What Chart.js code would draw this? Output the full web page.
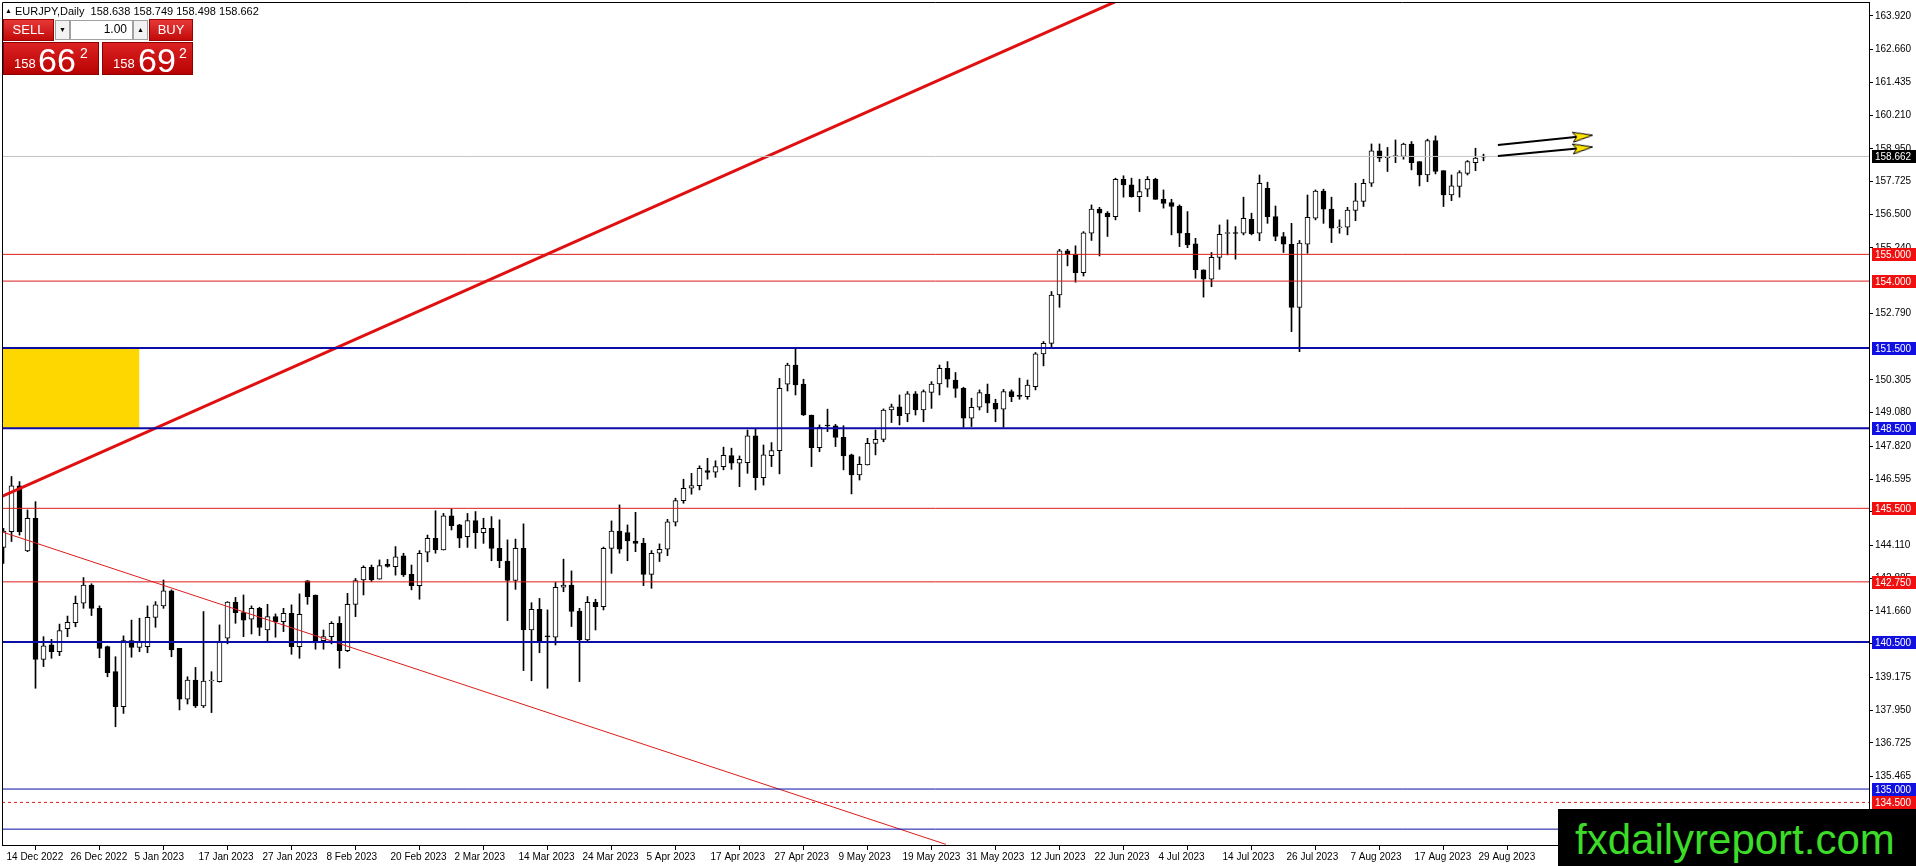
<!DOCTYPE html>
<html lang="en">
<head>
<meta charset="UTF-8">
<title>EURJPY Daily</title>
<script src="https://cdn.jsdelivr.net/npm/chart.js"></script>
<style>
    body { margin: 0; background: #fff; overflow: hidden; font-family: "Liberation Sans", Arial, sans-serif; }
    #wrap { position: relative; width: 1916px; height: 866px; }
    #chart { position: absolute; left: 0; top: 0; }
    .info { position: absolute; left: 5px; top: 5px; font-size: 11px; line-height: 11px; color: #000; white-space: pre; }
    .info .tri { font-size: 7px; vertical-align: 2px; }
    .cell { position: absolute; box-sizing: border-box; }
    .red { background: linear-gradient(#e63838, #c20a0a); color: #fff; border: 1px solid #9a0000; }
    .small { font-size: 13px; text-align: center; line-height: 20px; }
    .spin { background: #f2f2f2; border: 1px solid #a0a0a0; font-size: 7px; text-align: center; line-height: 17px; color: #000; }
    .lot { background: #fff; border: 1px solid #a0a0a0; font-size: 12px; text-align: right; padding-right: 5px; line-height: 17px; }
    .big { background: linear-gradient(#dc2222, #b80202); color: #fff; border: 1px solid #8c0000; }
    .big span { position: absolute; line-height: 1; }
    .big .p { font-size: 13px; top: 14px; }
    .big .d { font-size: 34px; top: 0px; }
    .big .s { font-size: 14px; top: 3px; }
    #mark { position: absolute; left: 1558px; top: 809px; width: 358px; height: 57px; background: #000; }
    #mark span { position: absolute; left: 17px; top: 10px; font-size: 42px; line-height: 1; color: #3cdc28; }
</style>
</head>
<body>
<div id="wrap">
    <canvas id="chart" width="1916" height="866"></canvas>

    <div class="info"><span class="tri">&#9650;</span> EURJPY,Daily  158.638 158.749 158.498 158.662</div>

    <!-- one click trading panel -->
    <div class="cell red small" style="left:3px; top:19px; width:51px; height:22px;">SELL</div>
    <div class="cell spin" style="left:55px; top:20px; width:15px; height:20px;">&#9660;</div>
    <div class="cell lot" style="left:70px; top:20px; width:63px; height:20px;">1.00</div>
    <div class="cell spin" style="left:133px; top:20px; width:15px; height:20px;">&#9650;</div>
    <div class="cell red small" style="left:149px; top:19px; width:44px; height:22px;">BUY</div>
    <div class="cell big" style="left:3px; top:42px; width:96px; height:33px;">
        <span class="p" style="left:10px;">158</span><span class="d" style="left:34px;">66</span><span class="s" style="left:76px;">2</span>
    </div>
    <div class="cell big" style="left:102px; top:42px; width:91px; height:33px;">
        <span class="p" style="left:10px;">158</span><span class="d" style="left:35px;">69</span><span class="s" style="left:76px;">2</span>
    </div>

    <div id="mark"><span>fxdailyreport.com</span></div>
</div>

<script>
    // date labels, one every 8 daily bars
    const xTickLabels = ['14 Dec 2022', '26 Dec 2022', '5 Jan 2023', '17 Jan 2023', '27 Jan 2023', '8 Feb 2023',
        '20 Feb 2023', '2 Mar 2023', '14 Mar 2023', '24 Mar 2023', '5 Apr 2023', '17 Apr 2023', '27 Apr 2023',
        '9 May 2023', '19 May 2023', '31 May 2023', '12 Jun 2023', '22 Jun 2023', '4 Jul 2023', '14 Jul 2023',
        '26 Jul 2023', '7 Aug 2023', '17 Aug 2023', '29 Aug 2023'];

    // daily OHLC, bar 0 = 14 Dec 2022
    const opens = [
        144.04,144.63,146.34,143.91,145.13,139.85,140.39,140.14,141.00,141.22,
        141.95,142.63,141.76,140.33,139.39,138.08,140.55,140.30,140.33,141.42,
        141.85,142.41,140.26,138.36,139.08,138.11,139.04,139.02,140.64,141.99,
        141.60,141.35,141.76,140.95,141.45,141.26,141.57,140.33,142.79,142.26,
        140.55,140.70,141.20,140.18,141.91,142.82,143.29,142.85,143.41,143.32,
        143.72,143.03,142.61,143.86,144.38,143.94,145.22,144.88,144.44,145.04,
        144.59,144.75,144.00,143.53,142.80,144.00,140.95,141.72,140.70,140.68,
        142.55,142.63,141.66,140.58,141.98,141.82,144.00,144.65,144.59,144.28,
        144.19,143.03,143.82,143.97,144.98,145.79,146.25,146.35,146.91,146.85,
        147.06,147.47,147.19,147.21,148.21,146.65,147.47,147.66,150.14,150.86,
        150.15,148.99,147.77,148.60,148.59,148.16,147.50,146.75,147.12,147.93,
        148.08,149.18,149.30,149.03,149.78,149.18,149.84,150.15,150.74,150.30,
        149.99,148.87,149.28,149.77,149.43,149.21,149.87,149.70,149.68,150.05,
        151.28,151.67,153.48,155.13,155.00,154.32,155.79,156.69,156.54,156.41,
        157.81,157.60,157.16,157.44,157.81,157.06,156.94,156.81,155.79,155.39,
        154.42,154.07,154.89,155.78,155.79,155.79,156.31,155.79,157.47,156.41,
        155.67,155.38,153.02,155.38,156.35,157.37,156.69,155.99,156.02,156.64,
        156.98,157.66,158.87,158.62,158.66,158.66,159.13,158.47,157.97,159.26,
        158.13,157.22,157.54,158.03,158.43,158.638];
    const highs = [
        144.75,146.69,146.50,145.44,145.75,140.70,140.60,141.17,141.47,142.22,
        142.91,142.68,141.85,140.35,139.95,140.73,141.32,141.39,141.85,142.01,
        142.82,142.45,140.26,139.20,139.55,141.64,139.39,141.14,142.01,142.17,
        142.26,141.85,141.80,141.91,141.55,141.76,141.89,142.30,142.80,142.26,
        140.95,141.26,141.45,142.32,142.88,143.35,143.38,143.57,143.59,144.07,
        143.82,143.38,143.92,144.50,145.41,145.31,145.48,144.90,145.31,145.38,
        145.13,145.19,145.07,144.32,144.35,144.92,141.97,142.13,141.70,142.73,
        143.60,143.16,141.76,142.20,142.10,144.05,145.03,145.63,144.88,145.35,
        144.38,143.92,144.17,145.09,145.88,146.59,146.81,147.09,147.37,147.28,
        147.79,147.75,147.46,148.43,148.49,147.87,147.96,150.36,150.93,151.49,
        150.33,148.99,148.62,149.21,148.64,148.59,147.53,147.43,148.12,148.43,
        149.22,149.40,149.74,149.87,149.87,149.93,150.24,150.86,150.99,150.58,
        150.03,149.62,149.93,150.15,149.58,149.95,149.93,150.37,150.30,151.33,
        151.74,153.61,155.19,155.19,155.32,155.85,156.85,156.76,156.60,157.85,
        157.94,157.85,157.81,157.91,157.85,157.41,157.06,156.85,156.60,155.60,
        154.42,155.07,156.10,156.29,156.04,157.14,156.54,157.97,157.70,156.81,
        155.82,156.16,155.52,157.22,157.41,157.44,157.14,156.29,156.76,157.66,
        157.81,159.13,159.13,159.00,159.28,159.16,159.22,158.47,159.31,159.43,
        158.13,157.97,158.13,158.51,158.97,158.749];
    const lows = [
        143.44,144.26,144.50,143.88,138.77,139.58,139.89,139.99,140.70,141.07,
        141.76,141.49,139.91,139.20,137.33,137.83,139.93,140.14,140.10,141.05,
        141.76,139.95,137.96,138.18,138.05,138.05,137.86,139.00,140.43,141.20,
        140.70,140.80,140.74,140.55,140.68,140.89,140.04,139.89,141.91,140.23,
        140.23,140.43,139.52,140.14,141.45,142.26,142.76,142.85,143.30,143.00,
        142.95,142.45,142.10,143.50,143.82,143.94,144.69,144.03,144.04,144.00,
        144.19,143.54,143.28,141.30,142.47,139.43,139.05,140.10,138.77,140.39,
        142.38,141.08,139.02,140.54,140.95,141.70,143.07,143.82,143.54,143.88,
        142.61,142.51,143.51,143.73,144.84,145.69,146.03,146.19,146.59,146.66,
        146.94,146.96,146.31,146.81,146.19,146.37,147.06,146.79,149.89,149.74,
        148.97,147.06,147.62,148.37,147.81,146.94,146.04,146.56,147.12,147.50,
        147.99,148.71,148.62,148.74,148.99,148.74,149.24,149.74,150.03,149.65,
        148.53,148.56,149.18,149.08,148.74,148.53,149.49,149.58,149.58,149.93,
        150.83,151.55,153.02,154.57,153.96,154.19,155.52,154.94,155.67,156.29,
        157.14,157.14,156.60,157.16,157.06,156.73,155.73,155.29,155.25,154.11,
        153.40,153.79,154.44,154.98,154.82,155.73,155.73,155.51,156.16,155.51,
        155.07,152.11,151.36,155.04,156.29,156.16,155.44,155.79,155.73,156.26,
        156.79,157.54,158.47,158.10,158.43,158.56,158.16,157.56,157.72,158.01,
        156.79,157.01,157.14,157.97,158.13,158.498];
    const closes = [
        144.65,146.34,144.63,145.13,139.85,140.36,140.14,140.93,141.24,141.95,
        142.63,141.76,140.26,139.35,138.08,140.55,140.30,140.51,141.42,141.89,
        142.41,140.20,138.36,139.08,138.11,139.04,139.06,140.51,141.99,141.60,
        141.32,141.76,141.05,141.45,141.26,141.57,140.33,141.54,142.20,140.55,
        140.70,141.20,140.18,141.91,142.80,143.29,142.82,143.36,143.33,143.69,
        143.01,142.61,143.82,144.38,143.94,145.22,144.85,144.38,145.04,144.59,
        144.75,144.00,143.54,142.80,144.00,140.95,141.72,140.54,140.69,142.55,
        142.63,141.64,140.58,141.98,141.82,144.00,144.65,143.97,144.28,144.19,
        143.03,143.82,143.97,145.00,145.79,146.25,146.35,147.00,146.84,147.06,
        147.48,147.19,147.33,148.21,146.65,147.50,147.66,149.99,150.86,150.12,
        148.99,147.77,148.53,148.58,148.15,147.46,146.75,147.15,147.93,148.08,
        149.18,149.30,148.97,149.78,149.18,149.87,150.15,150.74,150.33,149.99,
        148.87,149.28,149.83,149.43,149.21,149.87,149.68,149.69,150.11,151.28,
        151.67,153.48,155.13,155.00,154.32,155.81,156.69,156.54,156.41,157.81,
        157.60,157.16,157.35,157.81,157.06,156.91,156.79,155.79,155.35,154.42,
        154.07,154.89,155.75,155.79,155.78,156.35,155.77,157.66,156.41,155.67,
        155.38,153.02,155.42,156.39,157.37,156.69,155.98,156.00,156.66,157.00,
        157.66,158.87,158.60,158.63,158.68,159.13,158.43,157.97,159.26,158.10,
        157.22,157.56,158.06,158.47,158.60,158.662];

    // price axis labels
    const yTicks = [163.920, 162.660, 161.435, 160.210, 158.950, 157.725, 156.500, 155.240, 152.790,
        150.305, 149.080, 147.820, 146.595, 145.370, 144.110, 142.885, 141.660, 140.435, 139.175,
        137.950, 136.725, 135.465];

    // horizontal levels
    const redLevels = [155.0, 154.0, 145.5, 142.75];
    const blueLevels = [151.5, 148.5, 140.5];
    const blueThinLevels = [135.0, 133.5];
    const dottedLevels = [134.5];
    const currentPrice = 158.662;

    // price tags on the axis
    const tagLevels = [158.662, 155.0, 154.0, 151.5, 148.5, 145.5, 142.75, 140.5, 135.0, 134.5];
    const tagKinds = ['last', 'red', 'red', 'blue', 'blue', 'red', 'red', 'blue', 'blue', 'red'];

    // drawn objects (bar index, price)
    const upTrendBars = [-0.19, 139.5];
    const upTrendPrices = [145.95, 164.52];
    const downTrendBars = [-0.19, 117.8];
    const downTrendPrices = [144.62, 132.93];
    const zoneBars = [-0.19, 17.0];
    const zonePrices = [151.5, 148.5];
    const arrowBars = [186.8, 197.4];
    const arrowUpperPrices = [159.09, 159.42];
    const arrowLowerPrices = [158.68, 158.98];

    const X_MIN = -0.1875, X_MAX = 233.1875;
    const Y_MIN = 132.907, Y_MAX = 164.44;
    const RED = '#dc1c1c', BLUE = '#0c0ca6';
    const TAG_COLORS = { red: '#f01010', blue: '#1010e0', last: '#000000' };

    const idx = opens.map((_, i) => i);

    // yellow arrowhead used as point style
    const head = document.createElement('canvas');
    head.width = 22;
    head.height = 12;
    (function () {
        const c = head.getContext('2d');
        c.beginPath();
        c.moveTo(1, 1);
        c.lineTo(21, 6);
        c.lineTo(1, 11);
        c.lineTo(5, 6);
        c.closePath();
        c.fillStyle = '#ffe400';
        c.fill();
        c.strokeStyle = '#000';
        c.lineWidth = 1;
        c.stroke();
    })();

    function pts(xs, ys) {
        return xs.map((x, k) => ({ x: x, y: ys[k] }));
    }
    function hline(level, color, width, dash) {
        return {
            type: 'line', data: pts([X_MIN, X_MAX], [level, level]),
            borderColor: color, borderWidth: width, borderDash: dash || [],
            pointRadius: 0, fill: false, order: 1
        };
    }
    function arrow(ys) {
        return {
            type: 'line', data: pts(arrowBars, ys),
            borderColor: '#000', borderWidth: 2,
            pointRadius: [0, 10], pointStyle: ['circle', head], pointRotation: [0, -6],
            fill: false, order: 0
        };
    }

    const datasets = [];
    // yellow zone
    datasets.push({ type: 'line', data: pts(zoneBars, [zonePrices[0], zonePrices[0]]), borderWidth: 0,
        pointRadius: 0, fill: '+1', backgroundColor: '#ffd700', order: 10 });
    datasets.push({ type: 'line', data: pts(zoneBars, [zonePrices[1], zonePrices[1]]), borderWidth: 0,
        pointRadius: 0, fill: false, order: 10 });
    // candles
    datasets.push({
        type: 'bar', data: idx.map(i => ({ x: i, y: [lows[i], highs[i]] })),
        backgroundColor: '#000', borderWidth: 0, barThickness: 1, grouped: false, order: 3
    });
    datasets.push({
        type: 'bar', data: idx.map(i => ({ x: i, y: [opens[i], closes[i]] })),
        backgroundColor: idx.map(i => closes[i] >= opens[i] ? '#ffffff' : '#000000'),
        borderColor: '#000', borderWidth: 1, borderSkipped: false, barThickness: 5,
        minBarLength: 1, grouped: false, order: 2
    });
    // levels
    datasets.push(hline(currentPrice, '#c4c4c4', 1));
    redLevels.forEach(v => datasets.push(hline(v, RED, 1)));
    blueLevels.forEach(v => datasets.push(hline(v, BLUE, 2)));
    blueThinLevels.forEach(v => datasets.push(hline(v, BLUE, 1)));
    dottedLevels.forEach(v => datasets.push(hline(v, RED, 1, [3, 3])));
    // trendlines
    datasets.push({ type: 'line', data: pts(upTrendBars, upTrendPrices), borderColor: '#e01010',
        borderWidth: 3, pointRadius: 0, fill: false, order: 1 });
    datasets.push({ type: 'line', data: pts(downTrendBars, downTrendPrices), borderColor: RED,
        borderWidth: 1, pointRadius: 0, fill: false, order: 1 });
    // arrows
    datasets.push(arrow(arrowUpperPrices));
    datasets.push(arrow(arrowLowerPrices));

    // plot frame (top and left edges)
    const framePlugin = {
        id: 'frame',
        afterDatasetsDraw(chart) {
            const { ctx, chartArea: a } = chart;
            ctx.save();
            ctx.strokeStyle = '#000';
            ctx.lineWidth = 1;
            ctx.beginPath();
            ctx.moveTo(a.left + 0.5, a.bottom);
            ctx.lineTo(a.left + 0.5, a.top + 0.5);
            ctx.lineTo(a.right, a.top + 0.5);
            ctx.stroke();
            ctx.restore();
        }
    };

    // coloured price tags on the right axis
    const tagPlugin = {
        id: 'tags',
        afterDraw(chart) {
            const { ctx } = chart;
            const y = chart.scales.y;
            ctx.save();
            ctx.font = '10px "Liberation Sans", Arial, sans-serif';
            ctx.textBaseline = 'middle';
            tagLevels.forEach((v, k) => {
                const py = Math.round(y.getPixelForValue(v));
                ctx.fillStyle = TAG_COLORS[tagKinds[k]];
                ctx.fillRect(y.left + 3, py - 6, 44, 13);
                ctx.fillStyle = '#fff';
                ctx.fillText(v.toFixed(3), y.left + 6, py + 1);
            });
            ctx.restore();
        }
    };

    Chart.defaults.font.family = '"Liberation Sans", Arial, sans-serif';

    new Chart(document.getElementById('chart'), {
        type: 'bar',
        data: { datasets: datasets },
        options: {
            responsive: false,
            devicePixelRatio: 1,
            animation: false,
            events: [],
            layout: { autoPadding: false, padding: { left: 2, top: 2, right: 0, bottom: 0 } },
            plugins: { legend: { display: false }, tooltip: { enabled: false } },
            scales: {
                x: {
                    type: 'linear', offset: false, min: X_MIN, max: X_MAX,
                    grid: { drawOnChartArea: false, color: '#000', tickLength: 5 },
                    border: { display: true, color: '#000' },
                    ticks: {
                        align: 'start', labelOffset: 3, maxRotation: 0, minRotation: 0, autoSkip: false,
                        padding: 1, color: '#000', font: { size: 10 },
                        callback: (v, k) => xTickLabels[k]
                    },
                    afterBuildTicks: s => { s.ticks = xTickLabels.map((_, k) => ({ value: k * 8 })); },
                    afterFit: s => { s.height = 21; s.paddingLeft = 0; s.paddingRight = 0; }
                },
                y: {
                    type: 'linear', position: 'right', min: Y_MIN, max: Y_MAX,
                    grid: { drawOnChartArea: false, color: '#000', tickLength: 4 },
                    border: { display: true, color: '#000' },
                    ticks: {
                        autoSkip: false, padding: 2, color: '#000', font: { size: 10 },
                        callback: v => v.toFixed(3)
                    },
                    afterBuildTicks: s => { s.ticks = yTicks.map(v => ({ value: v })); },
                    afterFit: s => { s.width = 47; s.paddingTop = 0; s.paddingBottom = 0; }
                }
            }
        },
        plugins: [framePlugin, tagPlugin]
    });
</script>
</body>
</html>
